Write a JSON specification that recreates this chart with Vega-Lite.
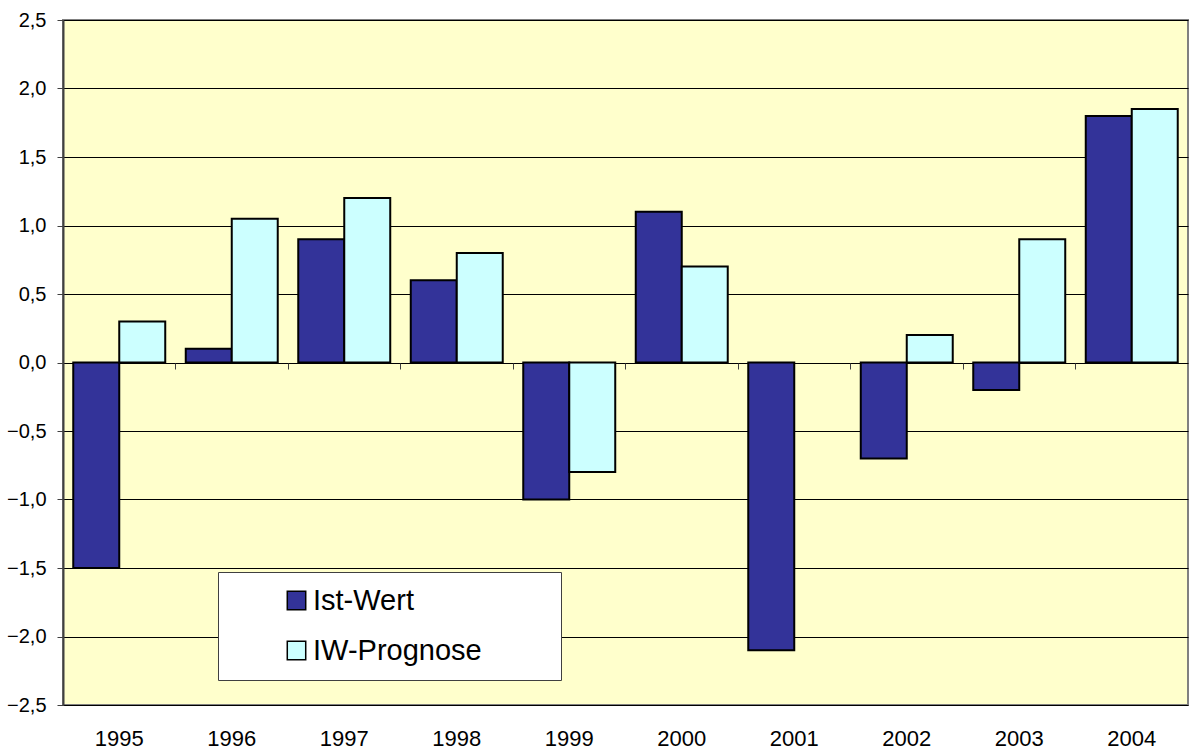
{
  "$schema": "https://vega.github.io/schema/vega-lite/v6.json",
  "width": 1125,
  "height": 685,
  "autosize": {"type": "none"},
  "padding": {"left": 63, "top": 20, "right": 2, "bottom": 48},
  "background": "white",
  "config": {
    "font": "Liberation Sans",
    "view": {"fill": "#FFFFCC", "stroke": "#808080", "strokeWidth": 2}
  },
  "data": {
    "values": [
      {"year": "1995", "series": "Ist-Wert", "value": -1.5},
      {"year": "1995", "series": "IW-Prognose", "value": 0.3},
      {"year": "1996", "series": "Ist-Wert", "value": 0.1},
      {"year": "1996", "series": "IW-Prognose", "value": 1.05},
      {"year": "1997", "series": "Ist-Wert", "value": 0.9},
      {"year": "1997", "series": "IW-Prognose", "value": 1.2},
      {"year": "1998", "series": "Ist-Wert", "value": 0.6},
      {"year": "1998", "series": "IW-Prognose", "value": 0.8},
      {"year": "1999", "series": "Ist-Wert", "value": -1.0},
      {"year": "1999", "series": "IW-Prognose", "value": -0.8},
      {"year": "2000", "series": "Ist-Wert", "value": 1.1},
      {"year": "2000", "series": "IW-Prognose", "value": 0.7},
      {"year": "2001", "series": "Ist-Wert", "value": -2.1},
      {"year": "2002", "series": "Ist-Wert", "value": -0.7},
      {"year": "2002", "series": "IW-Prognose", "value": 0.2},
      {"year": "2003", "series": "Ist-Wert", "value": -0.2},
      {"year": "2003", "series": "IW-Prognose", "value": 0.9},
      {"year": "2004", "series": "Ist-Wert", "value": 1.8},
      {"year": "2004", "series": "IW-Prognose", "value": 1.85}
    ]
  },
  "resolve": {"axis": {"x": "independent"}},
  "layer": [
    {
      "mark": {"type": "bar", "stroke": "black", "strokeWidth": 2, "cornerRadius": 0},
      "encoding": {
        "x": {
          "field": "year",
          "type": "nominal",
          "scale": {"paddingInner": 0, "paddingOuter": 0},
          "axis": {
            "title": null,
            "labelAngle": 0,
            "labelFontSize": 22,
            "labelColor": "black",
            "labelPadding": 23,
            "ticks": false,
            "domain": false,
            "grid": false
          }
        },
        "xOffset": {
          "field": "series",
          "type": "nominal",
          "sort": ["Ist-Wert", "IW-Prognose"],
          "scale": {"paddingInner": 0, "paddingOuter": 0.223}
        },
        "y": {
          "field": "value",
          "type": "quantitative",
          "scale": {"domain": [-2.5, 2.5], "nice": false, "zero": true},
          "axis": {
            "title": null,
            "values": [-2.5, -2, -1.5, -1, -0.5, 0, 0.5, 1, 1.5, 2, 2.5],
            "labelExpr": "replace(format(datum.value, '.1f'), '.', ',')",
            "labelFontSize": 20,
            "labelColor": "black",
            "labelPadding": 11,
            "tickSize": 6,
            "tickColor": "#404040",
            "domainColor": "#404040",
            "domainWidth": 2,
            "grid": true,
            "gridColor": "black",
            "gridWidth": 1,
            "gridOpacity": 1
          }
        },
        "fill": {
          "field": "series",
          "type": "nominal",
          "sort": ["Ist-Wert", "IW-Prognose"],
          "scale": {"domain": ["Ist-Wert", "IW-Prognose"], "range": ["#333399", "#CCFFFF"]},
          "legend": {
            "title": null,
            "orient": "none",
            "legendX": 155,
            "legendY": 552,
            "fillColor": "white",
            "strokeColor": "#404040",
            "padding": 14,
            "symbolType": "square",
            "symbolSize": 340,
            "symbolStrokeColor": "black",
            "symbolStrokeWidth": 1.5,
            "symbolOffset": 50,
            "labelFontSize": 29,
            "labelColor": "black",
            "labelOffset": 2,
            "labelLimit": 600,
            "rowPadding": 20,
            "labelExpr": "datum.label + '\u00a0\u00a0\u00a0\u00a0\u00a0\u00a0\u00a0\u00a0\u200b'"
          }
        }
      }
    },
    {
      "mark": {"type": "tick", "opacity": 0},
      "encoding": {
        "x": {
          "field": "year",
          "type": "nominal",
          "axis": {
            "title": null,
            "orient": "bottom",
            "offset": -342,
            "labels": false,
            "domain": false,
            "grid": false,
            "ticks": true,
            "bandPosition": 0,
            "tickSize": 6,
            "tickColor": "#404040",
            "tickWidth": 1
          }
        }
      }
    }
  ]
}
